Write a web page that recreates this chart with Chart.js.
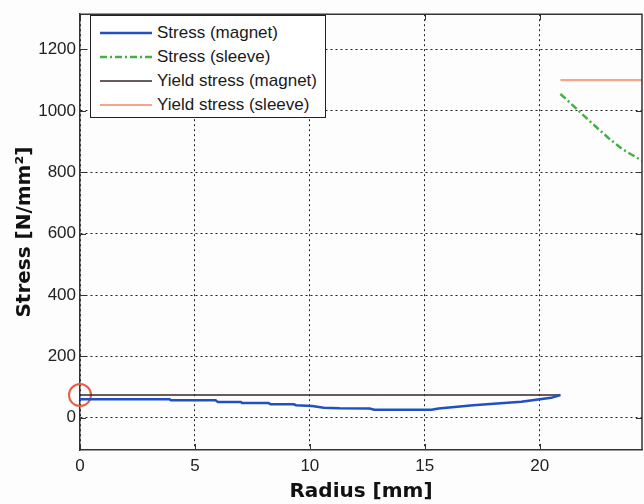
<!DOCTYPE html>
<html lang="en">
<head>
    <meta charset="UTF-8">
    <title>Stress vs radius</title>
    <script src="https://cdn.jsdelivr.net/npm/chart.js"></script>
    <style>
        body { margin: 0; background: #fdfdfd; }
        .wrap { position: relative; width: 644px; height: 504px; }
        #legend {
            position: absolute; left: 90px; top: 15px; width: 236px; height: 103px;
            border: 1px solid #222; background: #fff;
            font-family: "Liberation Sans", Arial, sans-serif; font-size: 17px; color: #1a1a1a;
            padding-top: 5px; box-sizing: border-box;
        }
        #legend .row { height: 24px; display: flex; align-items: center; padding-left: 9px; }
        #legend svg { margin-right: 5px; }
    </style>
</head>
<body>
<div class="wrap">
    <canvas id="graphique" width="644" height="504"></canvas>
    <div id="legend"></div>
</div>
<script>
    // Données
    const magnetX = [0, 3.9, 3.95, 5.9, 6.0, 7.0, 7.05, 8.2, 8.3, 9.3, 9.4, 10.1, 10.6, 11.3, 12.6, 12.8, 15.3, 15.6, 16.3, 17.1, 18.3, 19.2, 20.0, 20.5, 20.9];
    const magnetY = [60, 60, 57, 57, 51, 51, 48, 48, 44, 44, 41, 38, 33, 31, 30, 26, 26, 30, 35, 41, 47, 52, 60, 65, 74];
    const sleeveX = [20.9, 21.2, 21.7, 22.3, 23.0, 23.6, 24.4, 25];
    const sleeveY = [1055, 1035, 1000, 958, 911, 875, 840, 815];
    const yieldMagnetX = [0, 20.9];
    const yieldMagnetY = [74, 74];
    const yieldSleeveX = [20.9, 25];
    const yieldSleeveY = [1100, 1100];
    const markerX = [0];
    const markerY = [74];
    const xTicks = [0, 5, 10, 15, 20];
    const yTicks = [0, 200, 400, 600, 800, 1000, 1200];

    const pts = (xs, ys) => xs.map((x, i) => ({ x: x, y: ys[i] }));

    const datasets = [
        { label: 'Stress (magnet)', data: pts(magnetX, magnetY), borderColor: '#2150c2', borderWidth: 2.5, dash: [] },
        { label: 'Stress (sleeve)', data: pts(sleeveX, sleeveY), borderColor: '#44b044', borderWidth: 2.5, borderDash: [7, 3, 2, 3], dash: [7, 3, 2, 3] },
        { label: 'Yield stress (magnet)', data: pts(yieldMagnetX, yieldMagnetY), borderColor: '#3a2626', borderWidth: 1.5, dash: [] },
        { label: 'Yield stress (sleeve)', data: pts(yieldSleeveX, yieldSleeveY), borderColor: '#f5a58a', borderWidth: 2.2, dash: [] }
    ].map(d => Object.assign({ pointRadius: 0, tension: 0, fill: false }, d));

    // cercle rouge autour du point de départ
    datasets.push({
        label: 'marker', data: pts(markerX, markerY), showLine: false, clip: false,
        pointRadius: 11, pointBorderWidth: 2, pointBorderColor: '#ea5a40', pointBackgroundColor: 'rgba(0,0,0,0)'
    });

    // cadre complet + petites graduations intérieures (style MATLAB)
    const frame = {
        id: 'frame',
        afterDraw(chart) {
            const a = chart.chartArea, ctx = chart.ctx;
            const sx = chart.scales.x, sy = chart.scales.y;
            ctx.save();
            ctx.strokeStyle = '#333';
            ctx.lineWidth = 1.5;
            ctx.beginPath();
            ctx.moveTo(a.left, a.top);
            ctx.lineTo(a.right, a.top);
            ctx.lineTo(a.right, a.bottom);
            ctx.stroke();
            ctx.lineWidth = 1;
            ctx.beginPath();
            sx.ticks.forEach(t => {
                const px = Math.round(sx.getPixelForValue(t.value)) + 0.5;
                ctx.moveTo(px, a.bottom); ctx.lineTo(px, a.bottom - 6);
                ctx.moveTo(px, a.top); ctx.lineTo(px, a.top + 6);
            });
            sy.ticks.forEach(t => {
                const py = Math.round(sy.getPixelForValue(t.value)) + 0.5;
                ctx.moveTo(a.left, py); ctx.lineTo(a.left + 6, py);
                ctx.moveTo(a.right, py); ctx.lineTo(a.right - 6, py);
            });
            ctx.stroke();
            ctx.restore();
        }
    };

    const tickFont = { family: '"Liberation Sans", Arial, sans-serif', size: 17 };
    const titleFont = { family: '"DejaVu Sans", sans-serif', size: 20, weight: 'bold' };

    new Chart(document.getElementById('graphique'), {
        type: 'line',
        data: { datasets: datasets },
        options: {
            responsive: false,
            animation: false,
            layout: { autoPadding: false, padding: { top: 7, right: 2, left: 0, bottom: 0 } },
            plugins: { legend: { display: false }, tooltip: { enabled: false } },
            scales: {
                x: {
                    type: 'linear', min: 0, max: 24.45,
                    afterBuildTicks: s => { s.ticks = xTicks.map(v => ({ value: v })); },
                    afterFit: s => { s.height = 54; },
                    ticks: { font: tickFont, color: '#222', padding: 6, maxRotation: 0, callback: v => String(v) },
                    grid: { color: '#222', lineWidth: 1, drawTicks: false },
                    border: { color: '#333', width: 1.5, dash: [2, 3] },
                    title: { display: true, text: 'Radius [mm]', font: titleFont, color: '#111', padding: { top: 0, bottom: 0 } }
                },
                y: {
                    type: 'linear', min: -105, max: 1315,
                    afterBuildTicks: s => { s.ticks = yTicks.map(v => ({ value: v })); },
                    afterFit: s => { s.width = 80; },
                    ticks: { font: tickFont, color: '#222', padding: 4, callback: v => String(v) },
                    grid: { color: '#222', lineWidth: 1, drawTicks: false },
                    border: { color: '#333', width: 1.5, dash: [2, 3] },
                    title: { display: true, text: 'Stress [N/mm²]', font: titleFont, color: '#111', padding: { top: 13, bottom: 0 } }
                }
            }
        },
        plugins: [frame]
    });

    // Légende HTML construite à partir des séries
    const legend = document.getElementById('legend');
    datasets.slice(0, 4).forEach(d => {
        const row = document.createElement('div');
        row.className = 'row';
        row.innerHTML = '<svg width="52" height="6"><line x1="0" y1="3" x2="52" y2="3" stroke="' + d.borderColor +
            '" stroke-width="' + d.borderWidth + '" stroke-dasharray="' + d.dash.join(',') + '"/></svg><span>' + d.label + '</span>';
        legend.appendChild(row);
    });
</script>
</body>
</html>
